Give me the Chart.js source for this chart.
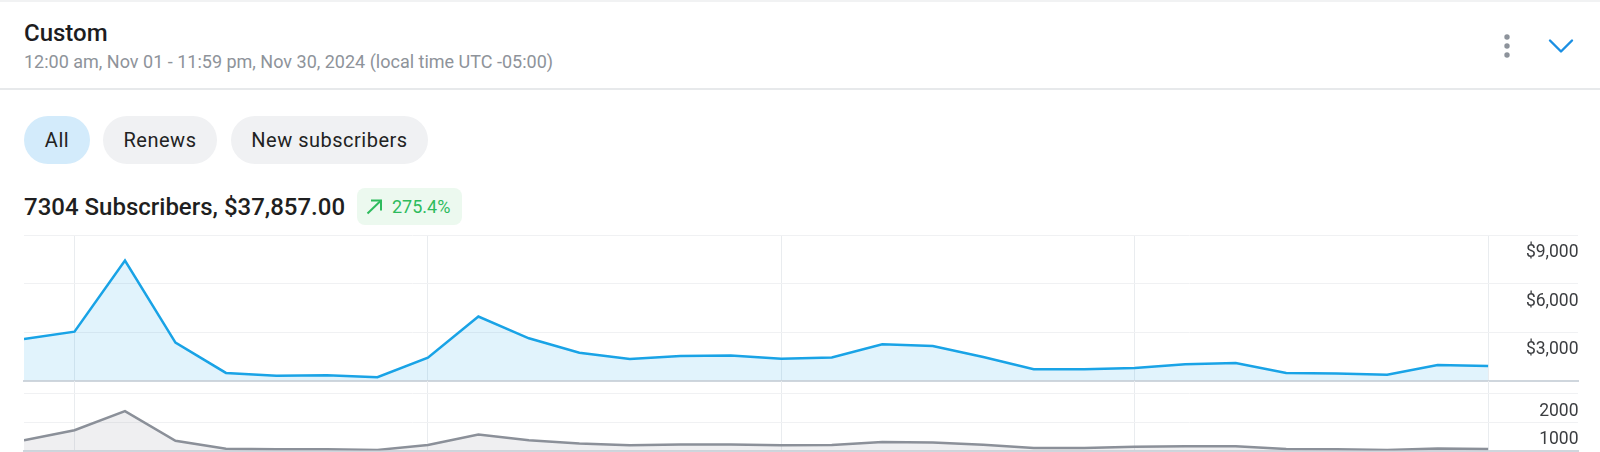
<!DOCTYPE html>
<html>
<head>
<meta charset="utf-8">
<script src="https://cdn.jsdelivr.net/npm/chart.js@4.4.1/dist/chart.umd.min.js"></script>
<style>
  html, body { margin: 0; padding: 0; background: #fff; overflow: hidden; }
  body { width: 1600px; height: 452px; position: relative; font-family: Roboto, "Noto Sans", sans-serif; }
  .topline { position: absolute; left: 0; top: 0; width: 1600px; height: 2px; background: #f1f2f3; }
  .title { position: absolute; left: 24px; top: 20.5px; font-size: 24px; line-height: 24px; font-weight: 500; color: #1d1d1f; white-space: nowrap; }
  .subtitle { position: absolute; left: 24px; top: 53px; font-size: 18px; line-height: 18px; color: #8e939a; white-space: nowrap; }
  .divider { position: absolute; left: 0; top: 88px; width: 1600px; height: 2px; background: #e7e9eb; }
  .icons { position: absolute; left: 0; top: 0; }
  .pill { position: absolute; top: 116px; height: 48px; border-radius: 24px; background: #f0f1f3;
          font-size: 20px; line-height: 48px; text-align: center; letter-spacing: .5px; color: #222; white-space: nowrap; }
  .pill.active { background: #d3ebfb; }
  .total { position: absolute; left: 24px; top: 195px; font-size: 24px; line-height: 24px; font-weight: 500; color: #1f1f21; white-space: nowrap; }
  .badge { position: absolute; left: 357px; top: 188px; width: 105px; height: 37px; border-radius: 8px; background: #ecf9ef; }
  .badge svg { position: absolute; left: 9px; top: 11px; }
  .badge span { position: absolute; left: 35px; top: 0; font-size: 18px; line-height: 37px; color: #2dbb5d; }
  .chart { position: absolute; left: 0; width: 1600px; }
</style>
</head>
<body>
<div class="topline"></div>
<div class="title">Custom</div>
<div class="subtitle">12:00 am, Nov 01 - 11:59 pm, Nov 30, 2024 (local time UTC -05:00)</div>
<svg class="icons" width="1600" height="90">
  <circle cx="1507" cy="37" r="2.7" fill="#8d939b"/>
  <circle cx="1507" cy="46" r="2.7" fill="#8d939b"/>
  <circle cx="1507" cy="55" r="2.7" fill="#8d939b"/>
  <polyline points="1550,40.5 1561,51.5 1572,40.5" fill="none" stroke="#1b8fe3" stroke-width="2.4" stroke-linecap="round" stroke-linejoin="round"/>
</svg>
<div class="divider"></div>

<div class="pill active" style="left:24px;width:66px">All</div>
<div class="pill" style="left:103px;width:114px">Renews</div>
<div class="pill" style="left:231px;width:197px">New subscribers</div>

<div class="total">7304 Subscribers, $37,857.00</div>
<div class="badge">
  <svg width="18" height="16">
    <line x1="1.5" y1="14.5" x2="15" y2="1.5" stroke="#2dbb5d" stroke-width="2"/>
    <polyline points="5,1.5 15,1.5 15,11.5" fill="none" stroke="#2dbb5d" stroke-width="2"/>
  </svg>
  <span>275.4%</span>
</div>

<div class="chart" style="top:220px;height:176px"><canvas id="revenueChart"></canvas></div>
<div class="chart" style="top:366px;height:100px"><canvas id="subsChart"></canvas></div>

<script>
"use strict";
// days of November 2024
var days = [1, 2, 3, 4, 5, 6, 7, 8, 9, 10, 11, 12, 13, 14, 15, 16, 17, 18, 19, 20, 21, 22, 23, 24, 25, 26, 27, 28, 29, 30];
var weekTicks = [2, 9, 16, 23, 30];

// revenue per day ($)
var revenue = [2570, 3020, 7420, 2340, 470, 290, 330, 200, 1410, 3960,
               2610, 1720, 1330, 1510, 1550, 1340, 1430, 2240, 2130, 1450,
               700, 700, 780, 1000, 1080, 470, 430, 350, 960, 900];
// subscribers per day
var subscribers = [360, 710, 1380, 340, 60, 40, 40, 20, 190, 560,
                   360, 250, 180, 210, 210, 180, 190, 300, 280, 200,
                   90, 90, 130, 150, 150, 50, 40, 20, 70, 50];

var revenueTicks = [0, 3000, 6000, 9000];
var subscriberTicks = [0, 1000, 2000];

Chart.defaults.font.family = "Roboto, 'Noto Sans', sans-serif";
Chart.defaults.animation = false;

function points(values) {
  return values.map(function(v, i) { return { x: days[i], y: v }; });
}

function setTicks(list) {
  return function(axis) {
    axis.ticks = list.map(function(v) { return { value: v }; });
  };
}

function xAxis() {
  return {
    type: 'linear',
    min: 1,
    max: 31.78,
    afterBuildTicks: setTicks(weekTicks),
    ticks: { display: false },
    grid: { color: '#e9ecef', lineWidth: 1, drawTicks: false },
    border: { display: true, color: '#cfd6dd', width: 2 }
  };
}

function yAxis(max, list, fmt) {
  return {
    position: 'right',
    min: 0,
    max: max,
    afterBuildTicks: setTicks(list),
    ticks: {
      mirror: true,
      padding: 0.5,
      labelOffset: 18,
      color: '#3b3d40',
      font: { size: 17.5 },
      callback: fmt
    },
    grid: { color: '#f0f1f3', lineWidth: 1, drawTicks: false },
    border: { display: false }
  };
}

var common = {
  responsive: true,
  maintainAspectRatio: false,
  devicePixelRatio: 1,
  events: [],
  plugins: { legend: { display: false }, tooltip: { enabled: false } },
  elements: { point: { radius: 0 }, line: { tension: 0 } }
};

new Chart(document.getElementById('revenueChart'), {
  type: 'line',
  data: {
    datasets: [{
      label: 'Revenue',
      data: points(revenue),
      borderColor: '#19a3e6',
      backgroundColor: 'rgba(25,163,230,0.13)',
      borderWidth: 2.5,
      fill: 'origin'
    }]
  },
  options: Object.assign({}, common, {
    layout: { padding: { left: 24, right: 21, top: 15, bottom: 15.5 } },
    scales: {
      x: xAxis(),
      y: yAxis(9000, revenueTicks, function(v) { return v === 0 ? '' : '$' + v.toLocaleString('en-US'); })
    }
  })
});

new Chart(document.getElementById('subsChart'), {
  type: 'line',
  data: {
    datasets: [{
      label: 'Subscribers',
      data: points(subscribers),
      borderColor: '#8b9099',
      backgroundColor: 'rgba(139,144,153,0.14)',
      borderWidth: 2.5,
      fill: 'origin'
    }]
  },
  options: Object.assign({}, common, {
    layout: { padding: { left: 24, right: 21, top: 15, bottom: 15.5 } },
    scales: {
      x: xAxis(),
      y: yAxis(2440, subscriberTicks, function(v) { return v === 0 ? '' : String(v); })
    }
  })
});
</script>
</body>
</html>
